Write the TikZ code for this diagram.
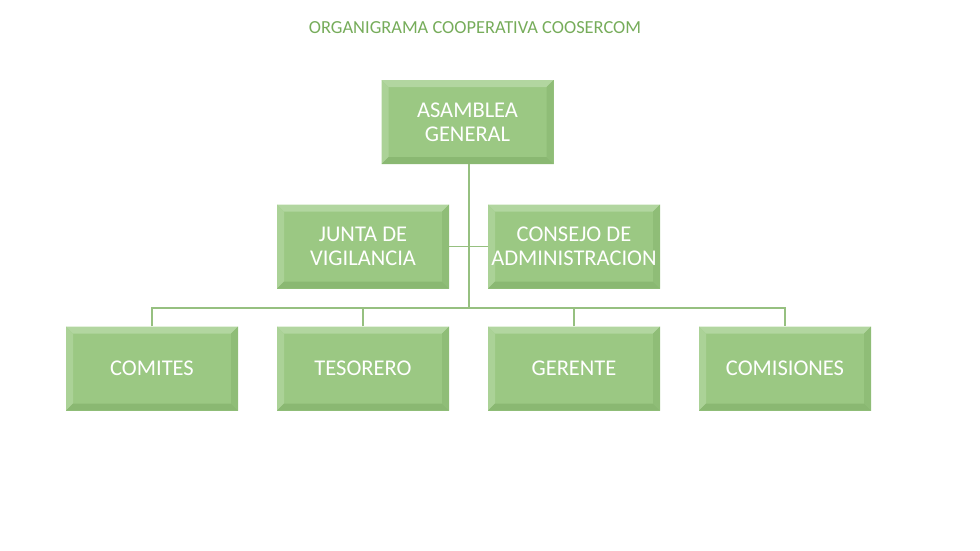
\documentclass[tikz,border=0pt]{standalone}
\usepackage{fontspec}
\setmainfont{Carlito}
\definecolor{boxfill}{RGB}{155,200,131}
\definecolor{bevlight}{RGB}{178,214,160}
\definecolor{bevdark}{RGB}{138,184,114}
\definecolor{linecol}{RGB}{150,192,128}
\definecolor{titlecol}{RGB}{118,172,90}
\begin{document}
\begin{tikzpicture}[x=1pt,y=-1pt,
  orgbox/.style={minimum width=172pt,minimum height=84pt,inner sep=0pt,fill=boxfill,
    align=center,text=white,font=\fontsize{22.5}{24}\selectfont,
    path picture={
      \coordinate (nw) at (path picture bounding box.north west);
      \coordinate (se) at (path picture bounding box.south east);
      \coordinate (ne) at (path picture bounding box.north east);
      \coordinate (sw) at (path picture bounding box.south west);
      \fill[bevlight] (nw) -- (ne) -- ([xshift=-7pt,yshift=-7pt]ne) -- ([xshift=7pt,yshift=-7pt]nw) -- cycle;
      \fill[bevlight!70!boxfill] (nw) -- (sw) -- ([xshift=7pt,yshift=7pt]sw) -- ([xshift=7pt,yshift=-7pt]nw) -- cycle;
      \fill[bevdark] (sw) -- (se) -- ([xshift=-7pt,yshift=7pt]se) -- ([xshift=7pt,yshift=7pt]sw) -- cycle;
      \fill[bevdark!70!boxfill] (ne) -- (se) -- ([xshift=-7pt,yshift=7pt]se) -- ([xshift=-7pt,yshift=-7pt]ne) -- cycle;
    }},
  conn/.style={draw=linecol,line width=1.2pt}]
\useasboundingbox (0,0) rectangle (980,550);
\node[text=titlecol,font=\fontsize{18.4}{22}\selectfont] (title) at (475,28) {ORGANIGRAMA COOPERATIVA COOSERCOM};
\node[orgbox] (asamblea) at (467.5,122) {ASAMBLEA\\GENERAL};
\node[orgbox] (junta) at (363,246.5) {JUNTA DE\\VIGILANCIA};
\node[orgbox] (consejo) at (574,246.5) {CONSEJO DE\\ADMINISTRACION};
\node[orgbox] (comites) at (152,368.5) {COMITES};
\node[orgbox] (tesorero) at (363,368.5) {TESORERO};
\node[orgbox] (gerente) at (574,368.5) {GERENTE};
\node[orgbox] (comisiones) at (785,368.5) {COMISIONES};
\coordinate (hub) at (469,308);
\draw[conn] (asamblea.south -| hub) -- (hub);
\draw[conn] (junta.east) -- (consejo.west);
\draw[conn] (comites.north) |- (hub) -| (comisiones.north);
\draw[conn] (tesorero.north) -- (tesorero.north |- hub);
\draw[conn] (gerente.north) -- (gerente.north |- hub);
\end{tikzpicture}
\end{document}
